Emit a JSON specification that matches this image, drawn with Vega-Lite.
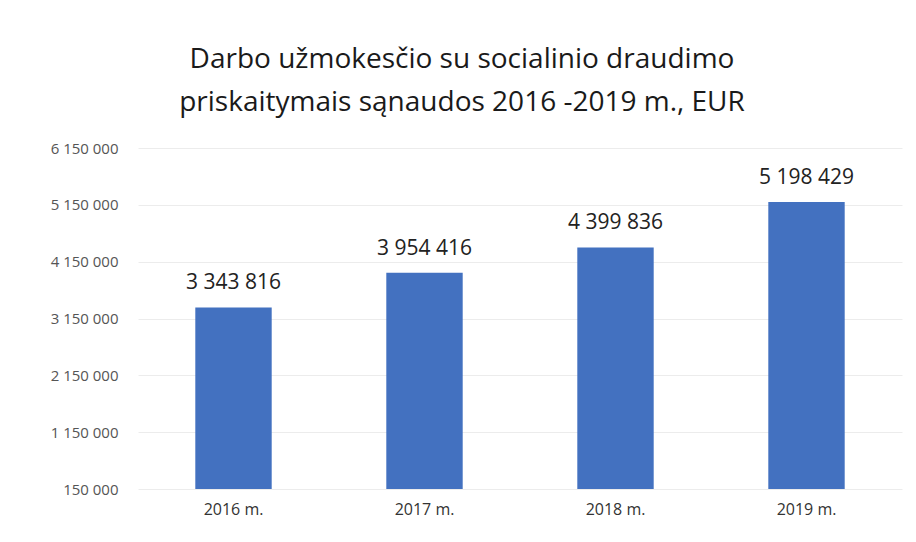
{
  "$schema": "https://vega.github.io/schema/vega-lite/v6.json",
  "width": 764,
  "height": 341,
  "autosize": {"type": "none"},
  "padding": {"left": 138, "top": 148, "right": 14, "bottom": 53},
  "background": "white",
  "config": {
    "view": {"stroke": null},
    "locale": {"number": {"decimal": ",", "thousands": " ", "grouping": [3], "currency": ["", " €"]}}
  },
  "title": {
    "text": ["Darbo užmokesčio su socialinio draudimo", "priskaitymais sąnaudos 2016 -2019 m., EUR"],
    "font": "Open Sans",
    "fontSize": 28,
    "fontWeight": "normal",
    "color": "#1a1a1a",
    "lineHeight": 43,
    "anchor": "middle",
    "dx": -58,
    "offset": 24
  },
  "data": {
    "values": [
      {"year": "2016 m.", "value": 3343816},
      {"year": "2017 m.", "value": 3954416},
      {"year": "2018 m.", "value": 4399836},
      {"year": "2019 m.", "value": 5198429}
    ]
  },
  "encoding": {
    "x": {
      "field": "year",
      "type": "nominal",
      "sort": null,
      "scale": {"paddingInner": 0.6, "paddingOuter": 0.3},
      "axis": {
        "title": null,
        "labelAngle": 0,
        "labelFont": "Open Sans",
        "labelFontSize": 16,
        "labelColor": "#333333",
        "labelPadding": 12,
        "ticks": false,
        "domain": false
      }
    },
    "y": {
      "field": "value",
      "type": "quantitative",
      "scale": {"domain": [150000, 6150000], "zero": false, "nice": false},
      "axis": {
        "title": null,
        "values": [150000, 1150000, 2150000, 3150000, 4150000, 5150000, 6150000],
        "format": ",d",
        "labelFont": "Open Sans",
        "labelFontSize": 15,
        "labelColor": "#555555",
        "labelPadding": 20,
        "ticks": false,
        "domain": false,
        "grid": true,
        "gridColor": "#ececec",
        "gridWidth": 1
      }
    }
  },
  "layer": [
    {
      "mark": {"type": "bar", "color": "#4371c0"},
      "encoding": {"y2": {"datum": 150000}}
    },
    {
      "mark": {"type": "text", "dy": -24, "font": "Open Sans", "fontSize": 21, "color": "#222222"},
      "encoding": {
        "text": {"field": "value", "type": "quantitative", "format": ",d"}
      }
    }
  ]
}
